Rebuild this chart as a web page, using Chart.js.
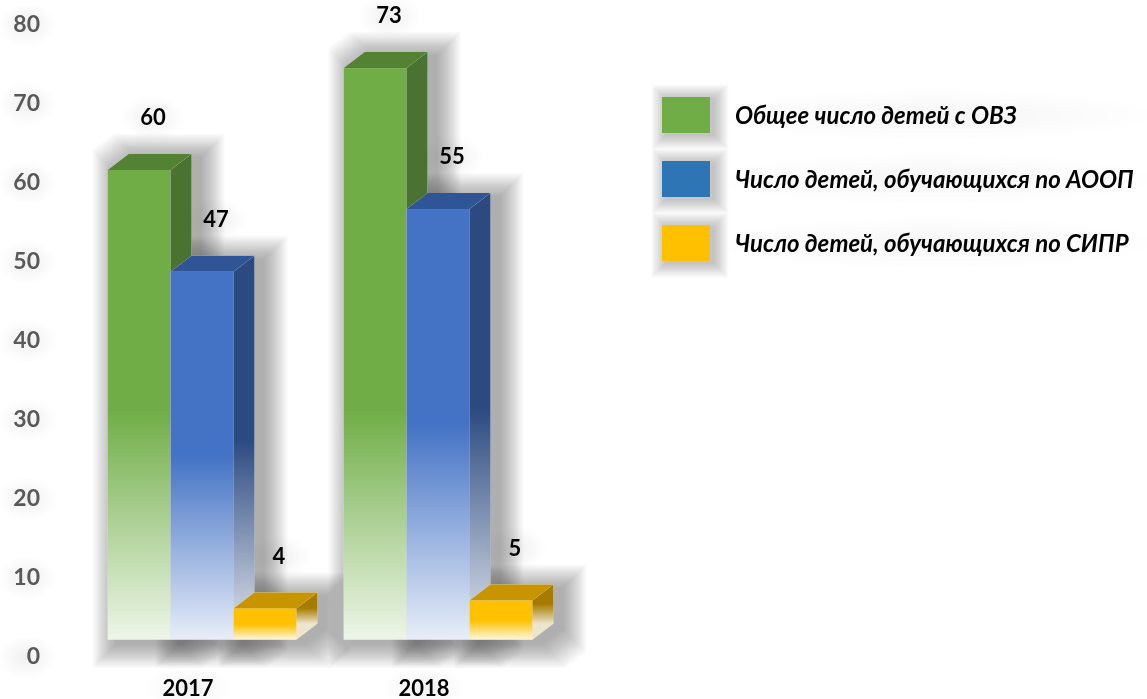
<!DOCTYPE html>
<html>
<head>
<meta charset="utf-8">
<script src="https://cdn.jsdelivr.net/npm/chart.js@4.4.0/dist/chart.umd.min.js"></script>
<style>
  html, body { margin: 0; padding: 0; background: #fff; }
  #wrap { width: 1147px; height: 699px; position: relative; }
</style>
</head>
<body>
<div id="wrap"><canvas id="chart"></canvas></div>
<script>
// data
const years = ["2017", "2018"];
const seriesNames = [
  "Общее число детей с ОВЗ",
  "Число детей, обучающихся по АООП",
  "Число детей, обучающихся по СИПР"
];
const totalOvz = [60, 73];
const aoopCount = [47, 55];
const siprCount = [4, 5];
const yTicks = [0, 10, 20, 30, 40, 50, 60, 70, 80];

// 3d look
const BAR_MIN = -2.2, BAR_MAX = 78.5;   // bar floor sits a bit above the tick "0"
const DEPTH = { dx: 21, dy: 16 };
const styles = [
  { front: [112, 173, 71], side: [74, 114, 48],  top: "#548235", legend: "#70AD47" },
  { front: [68, 114, 196], side: [44, 74, 128],  top: "#2F5597", legend: "#2E75B6" },
  { front: [255, 192, 0],  side: [166, 124, 0],  top: "#C79500", legend: "#FFC000" }
];
const FONT = "Lato, 'Open Sans', sans-serif";

function rgba(c, a) { return `rgba(${c[0]},${c[1]},${c[2]},${a})`; }

function fadeFill(ctx, c, top, bottom, endAlpha) {
  const len = Math.min(230, (bottom - top) * 0.5);
  const g = ctx.createLinearGradient(0, bottom - len, 0, bottom);
  g.addColorStop(0, rgba(c, 1));
  g.addColorStop(1, rgba(c, endAlpha));
  return g;
}

function barBox(el) {
  const p = el.getProps(["x", "y", "base", "width"], true);
  return { l: p.x - p.width / 2, r: p.x + p.width / 2, t: p.y, b: p.base, cx: p.x };
}

function outline(ctx, k, e = 0, ox = 0, oy = 0) {
  const { dx, dy } = DEPTH;
  const l = k.l - e + ox, r = k.r + e + ox, t = k.t - e + oy, b = k.b + e + oy;
  ctx.beginPath();
  ctx.moveTo(l, b);
  ctx.lineTo(l, t);
  ctx.lineTo(l + dx, t - dy);
  ctx.lineTo(r + dx, t - dy);
  ctx.lineTo(r + dx, b - dy);
  ctx.lineTo(r, b);
  ctx.closePath();
}

// layered fill = cheap blur
function soft(ctx, n, step, alpha, pathAt) {
  ctx.save();
  ctx.fillStyle = `rgba(0,0,0,${alpha})`;
  for (let s = 1; s <= n; s++) {
    pathAt(s * step);
    ctx.fill();
  }
  ctx.restore();
}

function glow(ctx, x, y, rx, ry, a) {
  ctx.save();
  ctx.translate(x, y);
  ctx.scale(rx / ry, 1);
  const g = ctx.createRadialGradient(0, 0, 0, 0, 0, ry);
  g.addColorStop(0, `rgba(0,0,0,${a})`);
  g.addColorStop(1, "rgba(0,0,0,0)");
  ctx.fillStyle = g;
  ctx.beginPath();
  ctx.arc(0, 0, ry, 0, Math.PI * 2);
  ctx.fill();
  ctx.restore();
}

const bars3d = {
  id: "bars3d",
  beforeDraw(chart) {
    const ctx = chart.ctx;
    const ys = chart.scales.y;
    yTicks.forEach(v => glow(ctx, 27, ys.getPixelForValue(v), 30, 22, 0.06));
    const xs = chart.scales.x;
    years.forEach((yr, i) => glow(ctx, xs.getPixelForValue(i) - 14, 688, 42, 20, 0.05));
  },
  beforeDatasetsDraw(chart) {
    const ctx = chart.ctx;
    const { dx, dy } = DEPTH;
    ctx.save();

    // soft shadows first, the shapes themselves get covered below
    chart.data.datasets.forEach((ds, i) => {
      chart.getDatasetMeta(i).data.forEach(el => {
        const k = barBox(el);
        soft(ctx, 22, 1.1, 0.018, e => outline(ctx, k, e, 9, 4));
      });
    });

    // faces
    chart.data.datasets.forEach((ds, i) => {
      const st = styles[i];
      chart.getDatasetMeta(i).data.forEach(el => {
        const k = barBox(el);
        outline(ctx, k);
        ctx.fillStyle = "#fff";
        ctx.fill();

        ctx.fillStyle = fadeFill(ctx, st.front, k.t, k.b, 0.12);
        ctx.fillRect(k.l, k.t, k.r - k.l, k.b - k.t);

        ctx.beginPath();
        ctx.moveTo(k.r, k.t);
        ctx.lineTo(k.r + dx, k.t - dy);
        ctx.lineTo(k.r + dx, k.b - dy);
        ctx.lineTo(k.r, k.b);
        ctx.closePath();
        ctx.fillStyle = fadeFill(ctx, st.side, k.t - dy, k.b - dy, 0.2);
        ctx.fill();

        ctx.beginPath();
        ctx.moveTo(k.l, k.t);
        ctx.lineTo(k.l + dx, k.t - dy);
        ctx.lineTo(k.r + dx, k.t - dy);
        ctx.lineTo(k.r, k.t);
        ctx.closePath();
        ctx.fillStyle = st.top;
        ctx.fill();
      });
    });

    // value labels
    ctx.font = `bold 22px ${FONT}`;
    ctx.textAlign = "center";
    ctx.textBaseline = "middle";
    chart.data.datasets.forEach((ds, i) => {
      chart.getDatasetMeta(i).data.forEach((el, j) => {
        const k = barBox(el);
        const lx = k.cx + 14, ly = k.t - 52;
        glow(ctx, lx, ly, 32, 22, 0.06);
        ctx.fillStyle = "#000";
        ctx.fillText(String(ds.data[j]), lx, ly);
      });
    });
    ctx.restore();
    return false;
  },
  afterDraw(chart) {
    const ctx = chart.ctx;
    ctx.save();
    const x = 662, y0 = 97, step = 64, bw = 48, bh = 36, tx = 735;
    seriesNames.forEach((name, i) => {
      const y = y0 + i * step;
      glow(ctx, tx + 200, y + bh / 2, 230, 26, 0.04);
      soft(ctx, 12, 1.2, 0.022, e => {
        ctx.beginPath();
        ctx.rect(x - e + 4, y - e + 2, bw + 2 * e, bh + 2 * e);
      });
      ctx.fillStyle = styles[i].legend;
      ctx.fillRect(x, y, bw, bh);
      ctx.fillStyle = "#000";
      ctx.font = `italic bold 24px ${FONT}`;
      ctx.textAlign = "left";
      ctx.textBaseline = "middle";
      ctx.fillText(name, tx, y + bh / 2 + 1);
    });
    ctx.restore();
  }
};

new Chart(document.getElementById("chart"), {
  type: "bar",
  data: {
    labels: years,
    datasets: [
      { label: seriesNames[0], data: totalOvz, yAxisID: "yBar" },
      { label: seriesNames[1], data: aoopCount, yAxisID: "yBar" },
      { label: seriesNames[2], data: siprCount, yAxisID: "yBar" }
    ]
  },
  options: {
    responsive: true,
    maintainAspectRatio: false,
    animation: false,
    layout: { padding: { left: 13, right: 591, top: 25, bottom: 0 } },
    datasets: { bar: { categoryPercentage: 0.8, barPercentage: 1.0 } },
    plugins: { legend: { display: false }, tooltip: { enabled: false } },
    scales: {
      x: {
        grid: { display: false, drawTicks: false },
        border: { display: false },
        ticks: {
          color: "#000",
          font: { family: FONT, size: 22, weight: "bold" },
          padding: 19,
          labelOffset: -14
        },
        afterFit(scale) { scale.height = 42; }
      },
      y: {
        position: "left",
        min: yTicks[0],
        max: yTicks[yTicks.length - 1],
        grid: { display: false, drawTicks: false },
        border: { display: false },
        ticks: {
          stepSize: yTicks[1] - yTicks[0],
          color: "#595959",
          font: { family: FONT, size: 23, weight: "bold" },
          padding: 44
        },
        afterFit(scale) {
          scale.width = 71;
          scale.paddingTop = 13;
          scale.paddingBottom = 13;
        }
      },
      yBar: { display: false, min: BAR_MIN, max: BAR_MAX }
    }
  },
  plugins: [bars3d]
});
</script>
</body>
</html>
